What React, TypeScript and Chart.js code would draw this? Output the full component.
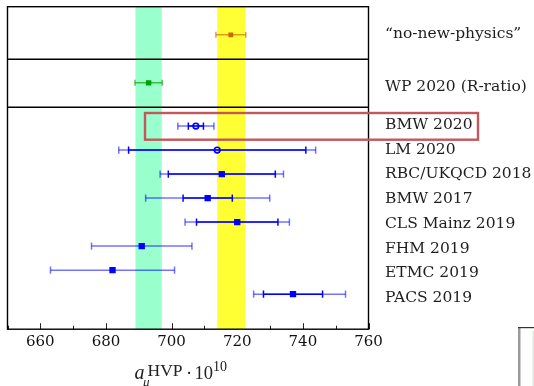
import React, { useEffect, useRef } from "react";
import { Chart, registerables } from "chart.js";

Chart.register(...registerables);

// ---------- data ----------
const latticeLabels = [
  "BMW 2020",
  "LM 2020",
  "RBC/UKQCD 2018",
  "BMW 2017",
  "CLS Mainz 2019",
  "FHM 2019",
  "ETMC 2019",
  "PACS 2019",
];
const latticeCenters = [707.4, 713.9, 715.3, 711.0, 720.0, 690.9, 682.0, 737.0];
const latticeStatErr = [2.3, 27.0, 16.3, 7.5, 12.4, 0, 0, 9.0];
const latticeTotErrLo = [5.5, 30.0, 18.8, 18.9, 15.9, 15.3, 18.9, 12.0];
const latticeTotErrHi = [5.5, 30.0, 18.8, 18.9, 15.9, 15.3, 18.9, 16.0];
const latticeOpen = [true, true, false, false, false, false, false, false];

const refLabels = ["\u201Cno-new-physics\u201D", "WP 2020 (R-ratio)"];
const refCenters = [718.05, 693.0];
const refErr = [4.55, 4.15];
const refColors = ["rgb(204,102,0)", "rgb(0,160,0)"];
const refLineColors = ["rgba(204,102,0,0.65)", "rgba(0,160,0,0.65)"];

const greenBand = [689.0, 697.0];
const yellowBand = [713.9, 722.4];

const xMin = 650;
const xMax = 760;
const xTickValues = [660, 680, 700, 720, 740, 760];

// ---------- layout (not data) ----------
const W = 534;
const H = 386;
const AREA = { left: 7.5, right: 368.5, top: 6.7, bottom: 329.2 };
const Y_MAX = 13.43;
const LATTICE_Y0 = 4.97;
const REF_Y = [1.17, 3.17];
const DIVIDERS_Y = [2.19, 4.19];
const LABEL_X = 385;
const REF_LABEL_BASE = [38, 91];
const LAT_LABEL_BASE0 = 129;
const LAT_LABEL_STEP = 24.7;

const BLUE = "rgb(0,0,255)";
const BLUE_LIGHT = "rgba(0,0,255,0.55)";

function segment(lo: number, hi: number, y: number, color: string, capR: number, order: number) {
  return {
    type: "line" as const,
    data: [
      { x: lo, y },
      { x: hi, y },
    ],
    borderColor: color,
    borderWidth: 1.5,
    pointStyle: "line" as const,
    pointRotation: 90,
    pointRadius: capR,
    pointBorderColor: color,
    pointBorderWidth: 1.5,
    pointBackgroundColor: color,
    showLine: true,
    fill: false,
    order,
  };
}

function buildDatasets() {
  const ds: any[] = [];
  latticeLabels.forEach((_, i) => {
    const y = LATTICE_Y0 + i;
    const c = latticeCenters[i];
    ds.push(segment(c - latticeTotErrLo[i], c + latticeTotErrHi[i], y, BLUE_LIGHT, 3.6, 3));
    if (latticeStatErr[i] > 0) {
      ds.push(segment(c - latticeStatErr[i], c + latticeStatErr[i], y, BLUE, 3.6, 2));
    }
    ds.push({
      type: "scatter" as const,
      data: [{ x: c, y }],
      pointStyle: latticeOpen[i] ? "circle" : "rect",
      pointRadius: latticeOpen[i] ? 2.8 : 4.5,
      pointBackgroundColor: latticeOpen[i] ? "rgba(255,255,255,0)" : BLUE,
      pointBorderColor: BLUE,
      pointBorderWidth: latticeOpen[i] ? 1.7 : 0,
      order: 1,
    });
  });
  refLabels.forEach((_, i) => {
    const y = REF_Y[i];
    const c = refCenters[i];
    ds.push(segment(c - refErr[i], c + refErr[i], y, refLineColors[i], 3, 3));
    ds.push({
      type: "scatter" as const,
      data: [{ x: c, y }],
      pointStyle: "rect",
      pointRadius: i === 0 ? 3.4 : 3.8,
      pointBackgroundColor: refColors[i],
      pointBorderColor: refColors[i],
      pointBorderWidth: 0,
      order: 1,
    });
  });
  return ds;
}

const decorPlugin = {
  id: "decor",
  beforeDatasetsDraw(chart: any) {
    const { ctx, chartArea: a, scales } = chart;
    const x = scales.x;
    const y = scales.y;
    ctx.save();
    // tick marks (inside)
    ctx.strokeStyle = "#222";
    ctx.lineWidth = 1;
    for (let v = xMin; v <= xMax; v += 10) {
      const px = Math.round(x.getPixelForValue(v)) + 0.5;
      const len = xTickValues.includes(v) ? 6 : 3.5;
      ctx.beginPath();
      ctx.moveTo(px, a.bottom);
      ctx.lineTo(px, a.bottom - len);
      ctx.stroke();
    }
    // bands
    const band = (b: number[], col: string) => {
      const l = x.getPixelForValue(b[0]);
      const r = x.getPixelForValue(b[1]);
      ctx.fillStyle = col;
      ctx.fillRect(l, a.top, r - l, a.bottom - a.top);
    };
    band(greenBand, "rgb(153,255,204)");
    band(yellowBand, "rgb(255,255,51)");
    // frame + dividers
    ctx.strokeStyle = "#000";
    ctx.lineWidth = 1.4;
    ctx.strokeRect(a.left, a.top, a.right - a.left, a.bottom - a.top);
    DIVIDERS_Y.forEach((v) => {
      const py = y.getPixelForValue(v);
      ctx.beginPath();
      ctx.moveTo(a.left, py);
      ctx.lineTo(a.right, py);
      ctx.stroke();
    });
    ctx.restore();
  },
  afterDraw(chart: any) {
    const { ctx } = chart;
    ctx.save();
    // right-hand labels
    ctx.fillStyle = "#1e1e1e";
    ctx.font = "15.5px 'DejaVu Serif'";
    ctx.textAlign = "left";
    ctx.textBaseline = "alphabetic";
    refLabels.forEach((t, i) => ctx.fillText(t, LABEL_X, REF_LABEL_BASE[i]));
    latticeLabels.forEach((t, i) =>
      ctx.fillText(t, LABEL_X, LAT_LABEL_BASE0 + LAT_LABEL_STEP * i)
    );
    // highlight box
    ctx.strokeStyle = "rgb(194,88,92)";
    ctx.lineWidth = 2.4;
    ctx.strokeRect(145, 113, 333, 26.7);
    // axis title: a_mu^HVP . 10^10
    ctx.fillStyle = "#222";
    ctx.font = "italic 20px 'Liberation Serif'";
    ctx.fillText("a", 134.5, 379);
    ctx.font = "17.5px 'Liberation Serif'";
    ctx.fillText("HVP", 147.5, 376);
    ctx.font = "italic 13px 'Liberation Serif'";
    ctx.fillText("\u03BC", 143, 386);
    ctx.font = "18.5px 'Liberation Serif'";
    ctx.fillText("\u00B7", 186, 379);
    ctx.fillText("10", 194.5, 379);
    ctx.font = "14px 'Liberation Serif'";
    ctx.fillText("10", 213, 371);
    // cropped neighbouring frame at bottom right
    ctx.fillStyle = "#9a9a9a";
    ctx.fillRect(518, 327, 2.5, H - 327);
    ctx.fillStyle = "#333";
    ctx.fillRect(518, 327, W - 518, 1.2);
    ctx.fillStyle = "#dfe6df";
    ctx.fillRect(532.5, 331, 1.5, H - 331);
    ctx.restore();
  },
};

export default function App() {
  const ref = useRef<HTMLCanvasElement | null>(null);
  useEffect(() => {
    if (!ref.current) return;
    const chart = new Chart(ref.current, {
      type: "scatter",
      data: { datasets: buildDatasets() },
      options: {
        responsive: false,
        animation: false,
        devicePixelRatio: 1,
        layout: {
          padding: {
            left: AREA.left,
            right: W - AREA.right,
            top: AREA.top,
            bottom: 0,
          },
        },
        plugins: {
          legend: { display: false },
          tooltip: { enabled: false },
        },
        scales: {
          x: {
            type: "linear",
            position: "bottom",
            min: xMin,
            max: xMax,
            afterBuildTicks: (s: any) => {
              s.ticks = xTickValues.map((v) => ({ value: v }));
            },
            afterFit: (s: any) => {
              s.height = H - AREA.bottom;
            },
            grid: { display: false, drawTicks: false },
            border: { display: false },
            ticks: {
              padding: 4,
              maxRotation: 0,
              autoSkip: false,
              color: "#111",
              font: { family: "'DejaVu Serif'", size: 15 },
            },
          },
          y: {
            type: "linear",
            display: false,
            reverse: true,
            min: 0,
            max: Y_MAX,
          },
        },
      },
      plugins: [decorPlugin],
    });
    return () => chart.destroy();
  }, []);
  return (
    <div style={{ position: "absolute", left: 0, top: 0, width: W, height: H, background: "#fff" }}>
      <canvas ref={ref} width={W} height={H} style={{ display: "block" }} />
    </div>
  );
}
